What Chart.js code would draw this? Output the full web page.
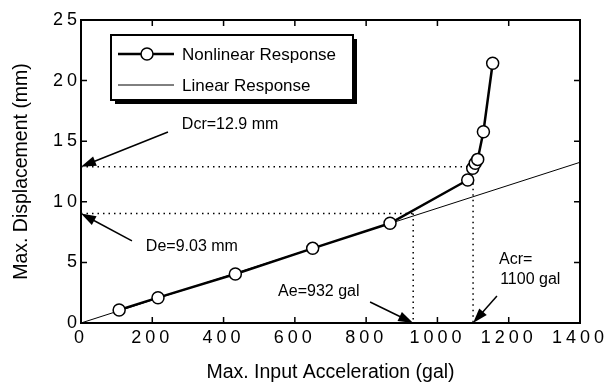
<!DOCTYPE html>
<html>
<head>
<meta charset="utf-8">
<script src="https://cdn.jsdelivr.net/npm/chart.js@4.4.1/dist/chart.umd.min.js"></script>
<style>
  html, body { margin: 0; padding: 0; background: #fff; }
  canvas { display: block; }
</style>
</head>
<body>
<canvas id="grafico" width="608" height="385"></canvas>
<script>
// ----------------------
// DATOS
// ----------------------
const aceleracion = [107, 216, 433, 650, 867, 1085, 1099, 1106, 1113, 1129, 1155];
const desplazamiento = [1.07, 2.09, 4.04, 6.16, 8.23, 11.8, 12.76, 13.18, 13.5, 15.78, 21.43];

const aceleracionLineal = [0, 1400];
const desplazamientoLineal = [0, 13.26];

const ticksX = [0, 200, 400, 600, 800, 1000, 1200, 1400];
const ticksY = [0, 5, 10, 15, 20, 25];

// valores de referencia (aceleracion, desplazamiento)
const referencias = [
  { a: 1100, d: 12.9 },
  { a: 932, d: 9.03 }
];

const notas = [
  { texto: 'Dcr=12.9 mm', a: 283, d: 16.37 },
  { texto: 'De=9.03 mm', a: 182, d: 6.3 },
  { texto: 'Ae=932 gal', a: 553, d: 2.56 },
  { texto: 'Acr=', a: 1173, d: 5.2 },
  { texto: '1100 gal', a: 1176, d: 3.55 }
];

const flechas = [
  { desde: [244, 15.76], hasta: [0, 12.9] },
  { desde: [143, 6.77], hasta: [0, 9.03] },
  { desde: [811, 1.73], hasta: [932, 0] },
  { desde: [1167, 2.23], hasta: [1100, 0] }
];

const fuente = "'Liberation Sans', Arial, Helvetica, sans-serif";

function flecha(ctx, x0, y0, x1, y1) {
  const ang = Math.atan2(y1 - y0, x1 - x0);
  const largo = 15, ancho = 5;
  const c = Math.cos(ang), s = Math.sin(ang);
  ctx.beginPath();
  ctx.moveTo(x0, y0);
  ctx.lineTo(x1 - largo * 0.8 * c, y1 - largo * 0.8 * s);
  ctx.stroke();
  ctx.beginPath();
  ctx.moveTo(x1, y1);
  ctx.lineTo(x1 - largo * c + ancho * s, y1 - largo * s - ancho * c);
  ctx.lineTo(x1 - largo * c - ancho * s, y1 - largo * s + ancho * c);
  ctx.closePath();
  ctx.fill();
}

const marcoPlugin = {
  id: 'marco',
  beforeDatasetsDraw(chart) {
    const { ctx, scales: { x, y } } = chart;
    ctx.save();
    ctx.strokeStyle = '#000';
    ctx.lineWidth = 1.5;
    ctx.setLineDash([1.5, 4]);
    referencias.forEach(r => {
      const px = x.getPixelForValue(r.a), py = y.getPixelForValue(r.d);
      ctx.beginPath();
      ctx.moveTo(x.getPixelForValue(0), py);
      ctx.lineTo(px, py);
      ctx.moveTo(px, py);
      ctx.lineTo(px, y.getPixelForValue(0));
      ctx.stroke();
    });
    ctx.restore();
  },
  afterDatasetsDraw(chart) {
    // espaciado de las etiquetas de los ejes
    chart.ctx.letterSpacing = '4px';
  },
  afterDraw(chart) {
    const { ctx, chartArea: ca, scales: { x, y } } = chart;
    ctx.letterSpacing = '0px';
    ctx.save();
    ctx.strokeStyle = '#000';
    ctx.fillStyle = '#000';

    // Marco y marcas hacia dentro
    ctx.lineWidth = 2;
    ctx.strokeRect(ca.left, ca.top, ca.right - ca.left, ca.bottom - ca.top);
    ctx.lineWidth = 1.5;
    ctx.beginPath();
    ticksX.forEach(v => {
      const px = x.getPixelForValue(v);
      ctx.moveTo(px, ca.bottom); ctx.lineTo(px, ca.bottom - 6);
      ctx.moveTo(px, ca.top); ctx.lineTo(px, ca.top + 6);
    });
    ticksY.forEach(v => {
      const py = y.getPixelForValue(v);
      ctx.moveTo(ca.left, py); ctx.lineTo(ca.left + 6, py);
      ctx.moveTo(ca.right, py); ctx.lineTo(ca.right - 6, py);
    });
    ctx.stroke();

    // Flechas y notas
    ctx.lineWidth = 1.5;
    flechas.forEach(f => {
      flecha(ctx,
        x.getPixelForValue(f.desde[0]), y.getPixelForValue(f.desde[1]),
        x.getPixelForValue(f.hasta[0]), y.getPixelForValue(f.hasta[1]));
    });
    ctx.font = '16px ' + fuente;
    ctx.textAlign = 'left';
    ctx.textBaseline = 'middle';
    notas.forEach(n => {
      ctx.fillText(n.texto, x.getPixelForValue(n.a), y.getPixelForValue(n.d));
    });

    // Leyenda
    const bx = ca.left + 30, by = ca.top + 15, bw = 242, bh = 65;
    ctx.fillRect(bx + 4, by + 4, bw, bh);
    ctx.fillStyle = '#fff';
    ctx.fillRect(bx, by, bw, bh);
    ctx.lineWidth = 2;
    ctx.strokeRect(bx, by, bw, bh);

    ctx.lineWidth = 2.5;
    ctx.beginPath();
    ctx.moveTo(bx + 7, by + 19); ctx.lineTo(bx + 63, by + 19);
    ctx.stroke();
    ctx.beginPath();
    ctx.arc(bx + 36, by + 19, 6, 0, Math.PI * 2);
    ctx.fillStyle = '#fff';
    ctx.fill();
    ctx.lineWidth = 1.5;
    ctx.stroke();

    ctx.lineWidth = 1;
    ctx.beginPath();
    ctx.moveTo(bx + 7, by + 50); ctx.lineTo(bx + 63, by + 50);
    ctx.stroke();

    ctx.fillStyle = '#000';
    ctx.font = '17px ' + fuente;
    ctx.fillText('Nonlinear Response', bx + 71, by + 20);
    ctx.fillText('Linear Response', bx + 71, by + 51);
    ctx.restore();
  }
};

const ctx = document.getElementById('grafico').getContext('2d');
new Chart(ctx, {
  type: 'scatter',
  data: {
    datasets: [
      {
        label: 'Nonlinear Response',
        data: aceleracion.map((a, i) => ({ x: a, y: desplazamiento[i] })),
        showLine: true,
        borderColor: '#000',
        borderWidth: 2.5,
        pointRadius: 6,
        pointBorderWidth: 1.5,
        pointBackgroundColor: '#fff',
        pointBorderColor: '#000',
        order: 1
      },
      {
        label: 'Linear Response',
        data: aceleracionLineal.map((a, i) => ({ x: a, y: desplazamientoLineal[i] })),
        showLine: true,
        borderColor: '#000',
        borderWidth: 1,
        pointRadius: 0,
        order: 2
      }
    ]
  },
  options: {
    responsive: false,
    animation: false,
    layout: { padding: { top: 20, right: 28, left: 0, bottom: 0 } },
    plugins: { legend: { display: false }, tooltip: { enabled: false } },
    scales: {
      x: {
        type: 'linear',
        min: 0, max: 1400,
        afterFit: s => { s.height = 62; },
        afterBuildTicks: s => { s.ticks = ticksX.map(v => ({ value: v })); },
        ticks: { font: { family: fuente, size: 18 }, color: '#000', padding: 4, z: 1, maxRotation: 0, autoSkip: false, callback: v => String(v) },
        grid: { display: false, drawTicks: false },
        border: { display: false },
        title: { display: true, text: 'Max. Input Acceleration (gal)', font: { family: fuente, size: 19.5 }, color: '#000', padding: { top: 0, bottom: 1 } }
      },
      y: {
        type: 'linear',
        min: 0, max: 25,
        afterFit: s => { s.width = 81; },
        afterBuildTicks: s => { s.ticks = ticksY.map(v => ({ value: v })); },
        ticks: { font: { family: fuente, size: 18 }, color: '#000', padding: 0, z: 1, autoSkip: false, callback: v => String(v) },
        grid: { display: false, drawTicks: false },
        border: { display: false },
        title: { display: true, text: 'Max. Displacement (mm)', font: { family: fuente, size: 19.5 }, color: '#000', padding: { top: 10, bottom: 0 } }
      }
    }
  },
  plugins: [marcoPlugin]
});
</script>
</body>
</html>
